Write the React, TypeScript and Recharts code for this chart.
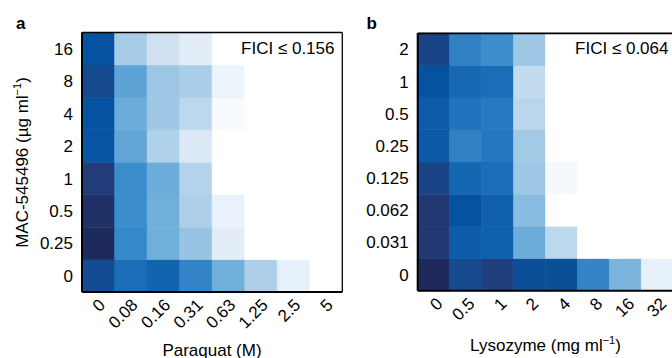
import React from 'react';
import { BarChart, Bar, XAxis, YAxis, Cell } from 'recharts';

// ---- Panel a: Paraquat x MAC-545496 ----
const paraquatTicks = ['0', '0.08', '0.16', '0.31', '0.63', '1.25', '2.5', '5'];
const macTicksA = ['0', '0.25', '0.5', '1', '2', '4', '8', '16'];
// growth (0..1), rows from MAC 0 (bottom) to 16 (top), columns by paraquat
const growthA0 = [0.89, 0.72, 0.76, 0.63, 0.49, 0.33, 0.1, 0];
const growthA025 = [1.0, 0.62, 0.49, 0.41, 0.12, 0, 0, 0];
const growthA05 = [0.98, 0.6, 0.49, 0.33, 0.09, 0, 0, 0];
const growthA1 = [0.95, 0.6, 0.5, 0.3, 0, 0, 0, 0];
const growthA2 = [0.83, 0.52, 0.32, 0.15, 0, 0, 0, 0];
const growthA4 = [0.85, 0.5, 0.4, 0.27, 0.04, 0, 0, 0];
const growthA8 = [0.9, 0.53, 0.4, 0.34, 0.08, 0, 0, 0];
const growthA16 = [0.85, 0.36, 0.2, 0.12, 0, 0, 0, 0];
const growthA = [growthA0, growthA025, growthA05, growthA1, growthA2, growthA4, growthA8, growthA16];

// ---- Panel b: Lysozyme x MAC-545496 ----
const lysozymeTicks = ['0', '0.5', '1', '2', '4', '8', '16', '32'];
const macTicksB = ['0', '0.031', '0.062', '0.125', '0.25', '0.5', '1', '2'];
const growthB0 = [1.0, 0.9, 0.94, 0.87, 0.87, 0.63, 0.47, 0.1];
const growthB0031 = [0.96, 0.79, 0.77, 0.5, 0.27, 0, 0, 0];
const growthB0062 = [0.96, 0.85, 0.77, 0.44, 0, 0, 0, 0];
const growthB0125 = [0.92, 0.75, 0.72, 0.4, 0.05, 0, 0, 0];
const growthB025 = [0.8, 0.64, 0.68, 0.38, 0, 0, 0, 0];
const growthB05 = [0.79, 0.7, 0.67, 0.28, 0, 0, 0, 0];
const growthB1 = [0.85, 0.74, 0.72, 0.25, 0, 0, 0, 0];
const growthB2 = [0.92, 0.64, 0.6, 0.4, 0, 0, 0, 0];
const growthB = [growthB0, growthB0031, growthB0062, growthB0125, growthB025, growthB05, growthB1, growthB2];

// colour scale stops
const scaleStops: [number, string][] = [
  [0.0, '#ffffff'],
  [0.05, '#f5f9fe'],
  [0.1, '#e6f0fa'],
  [0.2, '#d0e2f2'],
  [0.3, '#b4d3ea'],
  [0.4, '#9dc7e5'],
  [0.5, '#6cacda'],
  [0.6, '#3b8dcc'],
  [0.7, '#1f72bb'],
  [0.8, '#0a5aa7'],
  [0.85, '#0552a0'],
  [0.9, '#164a8f'],
  [0.95, '#213c78'],
  [1.0, '#1f2a5c'],
];

const hexToRgb = (h: string) => [
  parseInt(h.slice(1, 3), 16),
  parseInt(h.slice(3, 5), 16),
  parseInt(h.slice(5, 7), 16),
];

const colorFor = (v: number) => {
  for (let i = 1; i < scaleStops.length; i++) {
    const [v1, c1] = scaleStops[i];
    const [v0, c0] = scaleStops[i - 1];
    if (v <= v1) {
      const t = (v - v0) / (v1 - v0 || 1);
      const a = hexToRgb(c0);
      const b = hexToRgb(c1);
      const m = a.map((x, k) => Math.round(x + (b[k] - x) * t));
      return `rgb(${m[0]},${m[1]},${m[2]})`;
    }
  }
  return scaleStops[scaleStops.length - 1][1];
};

const FONT = '"Liberation Sans", Arial, Helvetica, sans-serif';
const rowKeys = ['r0', 'r1', 'r2', 'r3', 'r4', 'r5', 'r6', 'r7'];
const yTicks = [0.5, 1.5, 2.5, 3.5, 4.5, 5.5, 6.5, 7.5];

const buildData = (cols: string[]) =>
  cols.map((c) => {
    const o: any = { x: c };
    rowKeys.forEach((k) => (o[k] = 1));
    return o;
  });

const makeTick = (dxEnd: number) => (props: any) => {
  const { x, y, payload } = props;
  return (
    <g transform={`translate(${x + dxEnd},${y + 14})`}>
      <text textAnchor="end" transform="rotate(-45)" fontSize={17} fontFamily={FONT} fill="#000">
        {payload.value}
      </text>
    </g>
  );
};

type PanelProps = {
  cols: string[];
  rows: string[];
  growth: number[][];
  width: number;
  margin: any;
  dxEnd: number;
  rightAxis: boolean;
  topWidth: number;
};

// layer: 'cells' draws the heatmap, 'axes' draws the frame and ticks on top
const PanelLayer = ({
  cols,
  rows,
  growth,
  width,
  margin,
  dxEnd,
  rightAxis,
  topWidth,
  layer,
}: PanelProps & { layer: 'cells' | 'axes' }) => {
  const data = buildData(cols);
  const show = layer === 'axes';
  return (
    <BarChart width={width} height={358} data={data} margin={margin} barCategoryGap={0} barGap={0}>
      <XAxis
        dataKey="x"
        xAxisId="b"
        height={40}
        interval={0}
        tickLine={false}
        tickSize={0}
        tickMargin={0}
        axisLine={show}
        stroke="#000"
        strokeWidth={2}
        tick={show ? makeTick(dxEnd) : false}
      />
      <XAxis
        dataKey="x"
        xAxisId="t"
        orientation="top"
        height={1}
        tick={false}
        tickLine={false}
        axisLine={show}
        stroke="#000"
        strokeWidth={topWidth}
      />
      <YAxis
        yAxisId="l"
        type="number"
        domain={[0, 8]}
        ticks={yTicks}
        interval={0}
        width={40}
        tickLine={false}
        tickSize={0}
        tickMargin={9}
        axisLine={show}
        stroke="#000"
        strokeWidth={2}
        tick={show ? { fill: '#000', fontSize: 17, fontFamily: FONT, strokeWidth: 0, stroke: 'none' } : false}
        tickFormatter={(v: number) => rows[Math.floor(v)]}
      />
      <YAxis
        yAxisId="r"
        orientation="right"
        type="number"
        domain={[0, 8]}
        width={1}
        tick={false}
        tickLine={false}
        axisLine={show && rightAxis}
        stroke="#000"
        strokeWidth={1.3}
      />
      {rowKeys.map((k, j) => (
        <Bar
          key={k}
          dataKey={k}
          stackId="s"
          xAxisId="b"
          yAxisId="l"
          isAnimationActive={false}
          fillOpacity={show ? 0 : 1}
          strokeOpacity={show ? 0 : 1}
        >
          {cols.map((c, i) => {
            const col = colorFor(growth[j][i]);
            return <Cell key={c} fill={show ? 'none' : col} stroke={show ? 'none' : col} strokeWidth={0.6} />;
          })}
        </Bar>
      ))}
    </BarChart>
  );
};

const Panel = (p: PanelProps & { left: number }) => (
  <>
    <div style={{ position: 'absolute', left: p.left, top: 0 }}>
      <PanelLayer {...p} layer="cells" />
    </div>
    <div style={{ position: 'absolute', left: p.left, top: 0 }}>
      <PanelLayer {...p} layer="axes" />
    </div>
  </>
);

export default function App() {
  return (
    <div
      style={{
        position: 'absolute',
        left: 0,
        top: 0,
        width: 672,
        height: 358,
        overflow: 'hidden',
        background: '#fff',
        fontFamily: FONT,
      }}
    >
      <Panel
        left={0}
        cols={paraquatTicks}
        rows={macTicksA}
        growth={growthA}
        width={360}
        margin={{ top: 31.5, right: 16.7, bottom: 26, left: 42 }}
        dxEnd={8}
        rightAxis={true}
        topWidth={1.3}
      />
      <Panel
        left={340}
        cols={lysozymeTicks}
        rows={macTicksB}
        growth={growthB}
        width={340}
        margin={{ top: 32.3, right: 5.7, bottom: 27.3, left: 37.7 }}
        dxEnd={10}
        rightAxis={false}
        topWidth={1.8}
      />
      <svg
        width={672}
        height={358}
        style={{ position: 'absolute', left: 0, top: 0, pointerEvents: 'none' }}
        fontFamily={FONT}
      >
        <text x={16} y={29} fontSize={17} fontWeight="bold" fill="#000">a</text>
        <text x={366.5} y={29} fontSize={17} fontWeight="bold" fill="#000">b</text>
        <text x={334.5} y={54} fontSize={17} textAnchor="end" fill="#000">FICI ≤ 0.156</text>
        <text x={668.5} y={54} fontSize={17} textAnchor="end" fill="#000">FICI ≤ 0.064</text>
        <text x={212} y={355.5} fontSize={17} textAnchor="middle" fill="#000">Paraquat (M)</text>
        <text x={545.5} y={350.5} fontSize={17} textAnchor="middle" fill="#000">
          Lysozyme (mg ml
          <tspan fontSize={11} dy={-7}>−1</tspan>
          <tspan dy={7}>)</tspan>
        </text>
        <text x={28} y={162.5} fontSize={17} textAnchor="middle" fill="#000" transform="rotate(-90, 28, 162.5)">
          MAC-545496 (µg ml
          <tspan fontSize={11} dy={-7}>−1</tspan>
          <tspan dy={7}>)</tspan>
        </text>
      </svg>
    </div>
  );
}
